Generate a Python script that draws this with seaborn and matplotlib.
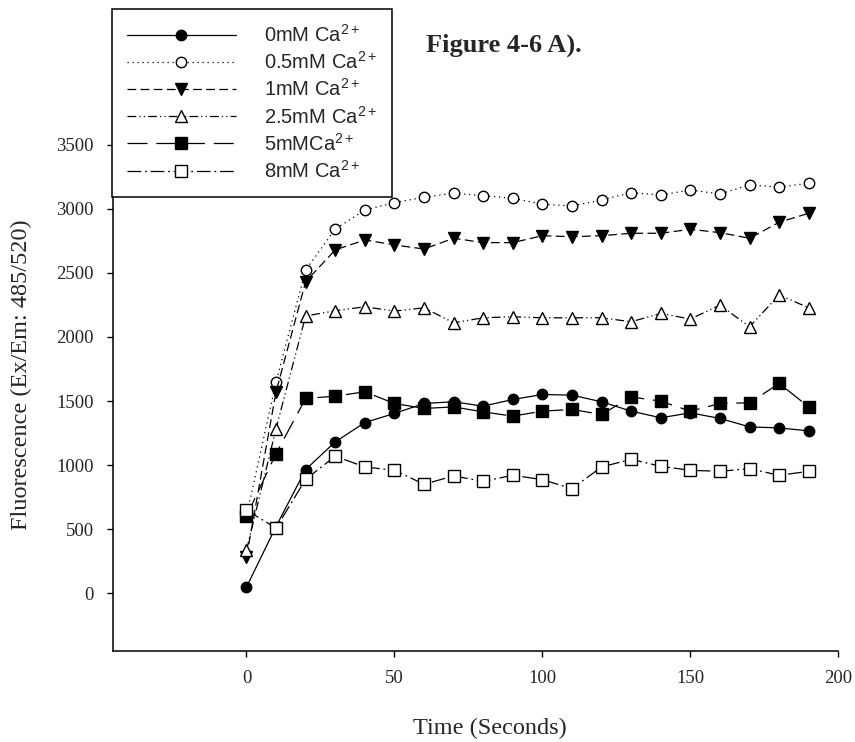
import matplotlib
matplotlib.use('Agg')
import matplotlib.pyplot as plt
import pandas as pd
import seaborn as sns

# Data (time in seconds, fluorescence Ex/Em 485/520)
time = [0, 10, 20, 30, 40, 50, 60, 70, 80, 90, 100, 110, 120, 130, 140, 150, 160, 170, 180, 190]
ca_0 = [47, 520, 965, 1181, 1332, 1403, 1481, 1494, 1460, 1512, 1551, 1546, 1494, 1421, 1369, 1408, 1364, 1298, 1290, 1267]
ca_05 = [600, 1650, 2523, 2843, 2992, 3049, 3091, 3123, 3104, 3083, 3037, 3023, 3070, 3127, 3109, 3148, 3117, 3188, 3170, 3201]
ca_1 = [281, 1572, 2432, 2680, 2758, 2719, 2687, 2771, 2737, 2737, 2791, 2783, 2791, 2810, 2810, 2841, 2815, 2771, 2896, 2966]
ca_25 = [334, 1285, 2164, 2205, 2236, 2202, 2228, 2111, 2150, 2158, 2150, 2150, 2150, 2119, 2184, 2140, 2249, 2080, 2328, 2228]
ca_5 = [600, 1090, 1520, 1538, 1572, 1481, 1442, 1454, 1415, 1382, 1421, 1434, 1395, 1532, 1499, 1421, 1481, 1486, 1637, 1454]
ca_8 = [647, 508, 889, 1069, 985, 959, 850, 915, 873, 920, 886, 816, 985, 1045, 990, 959, 951, 972, 920, 951]

labels = ['0mM Ca$^{2+}$', '0.5mM Ca$^{2+}$', '1mM Ca$^{2+}$',
          '2.5mM Ca$^{2+}$', '5mMCa$^{2+}$', '8mM Ca$^{2+}$']
series = [ca_0, ca_05, ca_1, ca_25, ca_5, ca_8]

# marker, face colour, marker size, line style
styles = [
    ('o', 'black', 7.5, '-'),
    ('o', 'white', 7.5, (0, (1, 3))),
    ('v', 'black', 9, (0, (7, 3.5))),
    ('^', 'white', 9, (0, (7, 2.5, 1, 2.5, 1, 2.5))),
    ('s', 'black', 8.5, (0, (16, 7))),
    ('s', 'white', 8.5, (0, (11, 3, 1.5, 3))),
]

sns.set_style('ticks')
plt.rcParams['font.family'] = ['Liberation Serif', 'DejaVu Serif']
plt.rcParams['mathtext.fontset'] = 'custom'
plt.rcParams['mathtext.rm'] = 'Liberation Sans'
plt.rcParams['mathtext.it'] = 'Liberation Sans:italic'

fig = plt.figure(figsize=(8.55, 7.42), dpi=100)
ax = fig.add_axes([0.1325, 0.123, 0.848, 0.768])

for vals, lab, (mk, fc, ms, ls) in zip(series, labels, styles):
    df = pd.DataFrame({'time': time, 'value': vals})
    sns.lineplot(data=df, x='time', y='value', ax=ax, color='black', linewidth=0.9,
                 linestyle=ls, marker=mk, markersize=ms, markerfacecolor=fc,
                 markeredgecolor='black', markeredgewidth=1.0, label=lab)

if ax.get_legend() is not None:
    ax.get_legend().remove()

ax.set_xlim(-45, 200)
ax.set_ylim(-450, 4000)
ax.set_xticks([0, 50, 100, 150, 200])
ax.set_yticks([0, 500, 1000, 1500, 2000, 2500, 3000, 3500])
ax.tick_params(direction='out', length=4, width=1, labelsize=13.5, color='black', pad=10)
for s in ['top', 'right']:
    ax.spines[s].set_visible(False)
for s in ['left', 'bottom']:
    ax.spines[s].set_linewidth(1.1)
    ax.spines[s].set_color('black')

ax.set_xlabel('Time (Seconds)', fontsize=17.5)
ax.set_ylabel('Fluorescence (Ex/Em: 485/520)', fontsize=17.5)
ax.xaxis.set_label_coords(0.52, -0.136)
ax.xaxis.label.set_va('center')
ax.yaxis.set_label_coords(-0.126, 0.484)
ax.yaxis.label.set_va('center')

# legend box sits in the top-left corner of the figure, over the axes
handles, labs = ax.get_legend_handles_labels()
leg = fig.legend(handles, labs, loc='upper left', bbox_to_anchor=(112 / 855, 1 - 9 / 742),
                 borderaxespad=0, prop={'family': 'Liberation Sans', 'size': 14.5},
                 frameon=True, fancybox=False, edgecolor='black', framealpha=1,
                 handlelength=5.4, handletextpad=1.4, borderpad=0.75,
                 labelspacing=0.26, numpoints=1)
leg.get_frame().set_linewidth(1.1)

fig.text(426 / 855, 1 - 45 / 742, 'Figure 4-6 A).', fontsize=19, fontweight='bold',
         va='center', ha='left')

fig.savefig('out.png', dpi=100)
